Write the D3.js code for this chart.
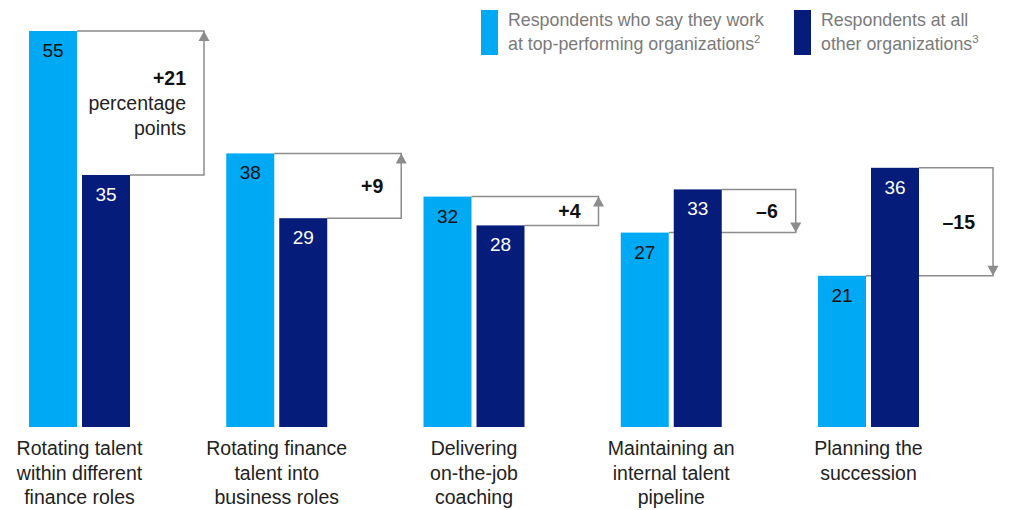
<!DOCTYPE html>
<html><head><meta charset="utf-8">
<script src="https://cdn.jsdelivr.net/npm/d3@7"></script>
<style>
html,body{margin:0;padding:0;background:#fff;}
svg{display:block;font-family:"Liberation Sans",Arial,sans-serif;}
</style></head>
<body><svg id="chart" width="1036" height="510"></svg>
<script>
const categories = [
  "Rotating talent\nwithin different\nfinance roles",
  "Rotating finance\ntalent into\nbusiness roles",
  "Delivering\non-the-job\ncoaching",
  "Maintaining an\ninternal talent\npipeline",
  "Planning the\nsuccession"
];
const series = ["top", "other"];
const seriesLabels = [
  ["Respondents who say they work", "at top-performing organizations", "2"],
  ["Respondents at all", "other organizations", "3"]
];
const topValues = [55, 38, 32, 27, 21];
const otherValues = [35, 29, 28, 33, 36];
const deltaLabels = ["+21", "+9", "+4", "\u20136", "\u201315"];
const unitNote = "percentage\npoints";

const colors = {top: "#00a9f4", other: "#051c7a"};
const svg = d3.select("#chart");

const x = d3.scaleBand().domain(categories).range([29, 919]).paddingInner(0.488).paddingOuter(0);
const xi = d3.scaleBand().domain(series).range([0, x.bandwidth()]).paddingInner(0.0943);
const y = d3.scaleLinear().domain([0, 55]).range([427, 31]);

const data = categories.map((c, i) => ({cat: c, top: topValues[i], other: otherValues[i], label: deltaLabels[i]}));

// brackets (behind bars)
const bw = xi.bandwidth();
const bracketGap = 74;
const gB = svg.append("g");
data.forEach((d, i) => {
  const lx = x(d.cat) + xi("top") + bw;
  const dx = x(d.cat) + xi("other") + bw;
  const bx = dx + bracketGap;
  const yt = y(d.top), yo = y(d.other);
  gB.append("path")
    .attr("d", `M${lx},${yt}H${bx}V${yo}H${dx}`)
    .attr("fill", "none").attr("stroke", "#8c8c8c").attr("stroke-width", 1.5);
  const dir = d.top > d.other ? 1 : -1;
  gB.append("path")
    .attr("d", `M${bx},${yt}L${bx-5.5},${yt + dir*10}L${bx+5.5},${yt + dir*10}Z`)
    .attr("fill", "#8c8c8c");
  const lines = [d.label];
  if (i === 0) lines.push(...unitNote.split("\n"));
  const lh = 25;
  const cy = (yt + yo) / 2;
  const t = gB.append("text").attr("text-anchor", "end").attr("font-size", 19.5).attr("fill", "#111");
  lines.forEach((ln, k) => {
    t.append("tspan").attr("x", bx - 18)
      .attr("y", cy - (lines.length - 1) * lh / 2 + k * lh + 7)
      .attr("font-weight", k === 0 ? "bold" : "normal")
      .attr("fill", k === 0 ? "#111" : "#222")
      .text(ln);
  });
});

// bars
const gBars = svg.append("g");
data.forEach(d => {
  series.forEach(s => {
    const x0 = x(d.cat) + xi(s);
    gBars.append("rect").attr("x", x0).attr("y", y(d[s])).attr("width", bw)
      .attr("height", y(0) - y(d[s])).attr("fill", colors[s]);
    gBars.append("text").attr("x", x0 + bw / 2).attr("y", y(d[s]) + 26)
      .attr("text-anchor", "middle").attr("font-size", 19)
      .attr("fill", s === "top" ? "#111" : "#fff").text(d[s]);
  });
});

// category labels
const gL = svg.append("g");
data.forEach(d => {
  const t = gL.append("text").attr("text-anchor", "middle").attr("font-size", 19.5).attr("fill", "#222");
  d.cat.split("\n").forEach((ln, k) => {
    t.append("tspan").attr("x", x(d.cat) + x.bandwidth() / 2).attr("y", 455 + k * 24.5).text(ln);
  });
});

// legend
const legendX = [481, 794];
series.forEach((s, i) => {
  const g = svg.append("g");
  g.append("rect").attr("x", legendX[i]).attr("y", 10).attr("width", 17).attr("height", 45).attr("fill", colors[s]);
  const t = g.append("text").attr("font-size", 17.8).attr("fill", "#7a7a7a");
  t.append("tspan").attr("x", legendX[i] + 27).attr("y", 26).text(seriesLabels[i][0]);
  t.append("tspan").attr("x", legendX[i] + 27).attr("y", 50).text(seriesLabels[i][1]);
  t.append("tspan").attr("font-size", 11.5).attr("dy", -7).text(seriesLabels[i][2]);
});
</script></body></html>
